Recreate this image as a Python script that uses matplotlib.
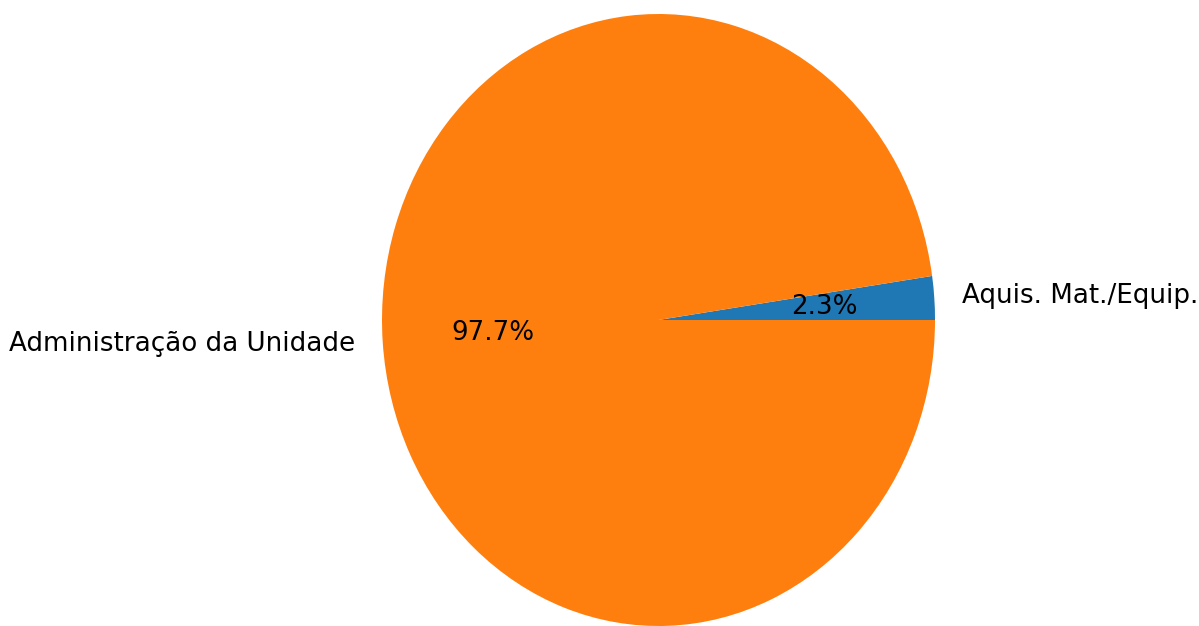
import matplotlib
matplotlib.use("Agg")
import matplotlib.pyplot as plt

# Budget share by category
labels = ["Aquis. Mat./Equip.", "Administração da Unidade"]
values = [2.3, 97.7]
colors = ["#1f77b4", "#ff7f0e"]

fig = plt.figure(figsize=(11.99, 6.26), dpi=100)
# axes stretched so the pie comes out as an ellipse like the original
ax = fig.add_axes([382 / 1199, 0.0, 553 / 1199, 612 / 626])

ax.pie(values, labels=labels, colors=colors, autopct="%1.1f%%",
       textprops={"fontsize": 18.8})
ax.set_aspect("auto")
ax.set_xlim(-1, 1)
ax.set_ylim(-1, 1)

fig.savefig("out.png", dpi=100)
